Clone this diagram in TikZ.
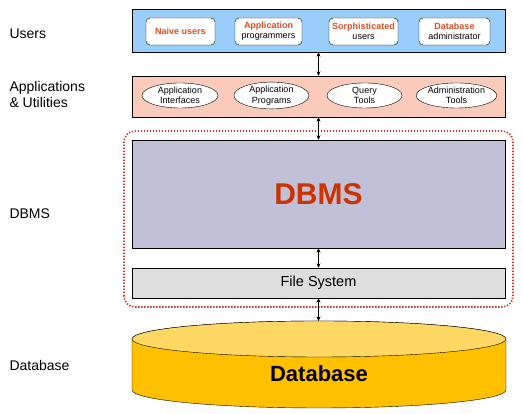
\documentclass[tikz,border=0pt]{standalone}
\usepackage{fontspec}
\setmainfont{Liberation Sans}
\usetikzlibrary{arrows.meta, shapes.geometric}
\definecolor{userblue}{RGB}{153,206,250}
\definecolor{appsalmon}{RGB}{250,202,187}
\definecolor{dbmsgray}{RGB}{192,192,216}
\definecolor{fsgray}{RGB}{222,222,222}
\definecolor{hotred}{RGB}{222,78,36}
\definecolor{dbmsred}{RGB}{204,51,0}
\definecolor{framered}{RGB}{192,64,52}
\definecolor{dbgold}{RGB}{255,192,0}
\definecolor{dbtopgold}{RGB}{255,216,100}
\tikzset{band/.style={rectangle,draw,minimum width=373pt,inner sep=0pt},
userbox/.style={rectangle,draw,rounded corners=4pt,fill=white,minimum width=69pt,minimum height=27pt,align=center,inner sep=1pt,font=\fontsize{9}{10.2}\selectfont},
toolell/.style={ellipse,draw,fill=white,minimum width=76pt,minimum height=25pt,inner sep=0pt,align=center,font=\fontsize{9}{10.5}\selectfont},
tag/.style={anchor=west,align=left,font=\fontsize{14}{16}\selectfont},
line/.style={{Stealth[length=4.5pt,width=4pt]}-{Stealth[length=4.5pt,width=4pt]}}}

\begin{document}
\begin{tikzpicture}[x=1pt,y=1pt]
\useasboundingbox (0,0) rectangle (523,414);
% left column
\node[tag] (tusers) at (6,380) {Users};
\node[tag] (tapps) at (6,319) {Applications\\\& Utilities};
\node[tag] (tdbms) at (6,200) {DBMS};
\node[tag] (tdb) at (6,48) {Database};
% users
\node[band,fill=userblue,minimum height=43pt] (users) at (318.5,383.5) {};
\node[userbox] (naive) at (180.5,382.5) {\textcolor{hotred}{\bfseries Naive users}};
\node[userbox,minimum width=67pt] (appprog) at (268.5,382.5) {\textcolor{hotred}{\bfseries Application}\\programmers};
\node[userbox] (soph) at (363.5,382.5) {\textcolor{hotred}{\bfseries Sorphisticated}\\users};
\node[userbox,minimum width=71pt] (dbadmin) at (454.5,382.5) {\textcolor{hotred}{\bfseries Database}\\administrator};
% applications and utilities
\node[band,fill=appsalmon,minimum height=41pt] (apps) at (318.5,317.5) {};
\node[toolell] (appif) at (180,318.5) {Application\\Interfaces};
\node[toolell,minimum width=75pt] (appprg) at (271.5,318.5) {Application\\Programs};
\node[toolell,minimum width=75pt] (query) at (364.5,318.5) {Query\\Tools};
\node[toolell,minimum width=77pt] (admin) at (456.5,318.5) {Administration\\Tools};
% dbms
\draw[framered,line width=1.7pt,dash pattern=on 1.4pt off 1.6pt,rounded corners=11pt] (124,107) rectangle (513,283);
\node[band,fill=dbmsgray,minimum height=108pt,font=\fontsize{30}{32}\selectfont\bfseries,text=dbmsred] (dbms) at (318.5,220) {DBMS};
\node[band,fill=fsgray,minimum height=30pt,font=\fontsize{14.5}{16}\selectfont] (fs) at (318.5,131) {File System};
% database cylinder
\filldraw[fill=dbgold] (132,75) -- (132,24) arc[start angle=180,end angle=360,x radius=187pt,y radius=18pt] -- (506,75) arc[start angle=0,end angle=180,x radius=187pt,y radius=18pt] -- cycle;
\filldraw[fill=dbtopgold] (319,75) ellipse[x radius=187pt,y radius=18pt];
\node[font=\fontsize{22}{24}\selectfont\bfseries] (db) at (319,40) {Database};
\coordinate (dbtop) at (318.5,93);
% arrows
\draw[line] (users) -- (apps);
\draw[line] (apps) -- (dbms);
\draw[line] (dbms) -- (fs);
\draw[line] (fs) -- (dbtop);
\end{tikzpicture}
\end{document}
